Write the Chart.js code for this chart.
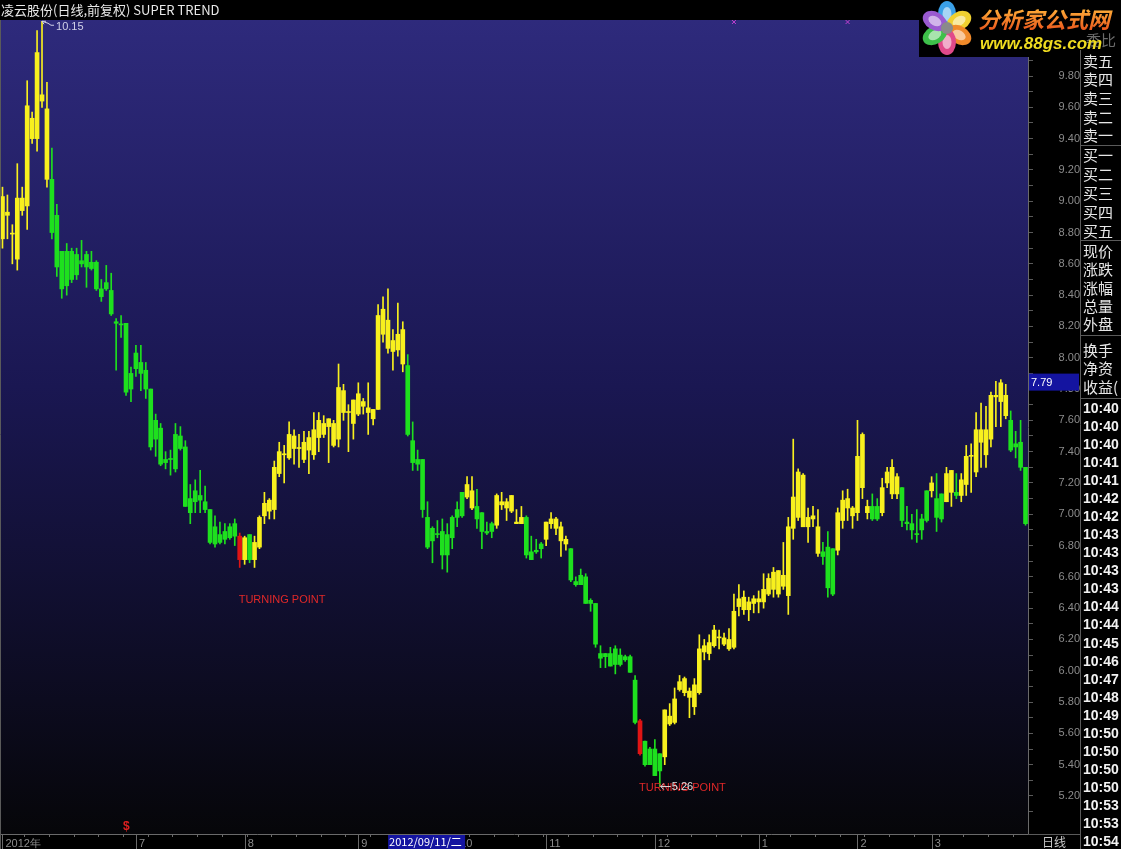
<!DOCTYPE html>
<html>
<head>
<meta charset="utf-8">
<script src="https://cdn.jsdelivr.net/npm/chart.js@4.4.0/dist/chart.umd.min.js"></script>
<style>
  html, body { margin: 0; padding: 0; background: #000; overflow: hidden; }
</style>
</head>
<body>
<canvas id="kline" width="1121" height="849"></canvas>
<script>
// daily candles, 2012-05 .. 2013-03
const opens = [
  8.76, 8.91, 8.79, 8.63, 8.94, 8.97, 9.40, 9.40, 9.64, 9.14,
  9.14, 8.91, 8.68, 8.68, 8.68, 8.66, 8.62, 8.66, 8.61, 8.61,
  8.44, 8.48, 8.43, 8.23, 8.21, 8.22, 7.90, 8.03, 7.97, 7.92,
  7.80, 7.60, 7.55, 7.35, 7.35, 7.51, 7.50, 7.43, 7.10, 7.15,
  7.12, 7.08, 7.03, 6.92, 6.87, 6.89, 6.92, 6.94, 6.86, 6.71,
  6.87, 6.71, 6.79, 6.99, 7.02, 7.03, 7.26, 7.38, 7.36, 7.42,
  7.42, 7.35, 7.41, 7.38, 7.49, 7.51, 7.56, 7.44, 7.48, 7.65,
  7.65, 7.58, 7.64, 7.69, 7.65, 7.61, 7.67, 8.15, 8.06, 8.04,
  8.05, 7.96, 7.95, 7.47, 7.35, 7.35, 6.98, 6.91, 6.87, 6.89,
  6.87, 6.98, 7.03, 7.14, 7.11, 7.04, 7.05, 7.01, 6.89, 6.94,
  6.93, 7.06, 7.04, 7.02, 6.94, 6.94, 6.98, 6.76, 6.77, 6.81,
  6.84, 6.94, 6.91, 6.83, 6.81, 6.78, 6.57, 6.61, 6.60, 6.45,
  6.43, 6.11, 6.11, 6.11, 6.14, 6.10, 6.09, 6.09, 5.94, 5.68,
  5.55, 5.50, 5.50, 5.47, 5.45, 5.66, 5.67, 5.88, 5.86, 5.83,
  5.77, 5.86, 6.12, 6.11, 6.16, 6.21, 6.17, 6.14, 6.15, 6.41,
  6.39, 6.39, 6.43, 6.44, 6.44, 6.49, 6.52, 6.49, 6.54, 6.48,
  6.91, 6.98, 6.92, 6.92, 6.97, 6.75, 6.76, 6.79, 6.78, 6.77,
  6.96, 7.04, 6.99, 7.01, 7.17, 7.01, 7.05, 7.05, 7.01, 7.20,
  7.13, 7.13, 7.17, 6.95, 6.94, 6.87, 6.97, 7.15, 7.15, 7.10,
  7.13, 7.08, 7.14, 7.14, 7.12, 7.19, 7.37, 7.27, 7.46, 7.38,
  7.48, 7.75, 7.72, 7.63, 7.60, 7.45, 7.46, 7.30
];
const highs = [
  9.09, 9.04, 8.85, 9.24, 9.09, 9.77, 9.57, 10.09, 10.15, 9.76,
  9.34, 8.98, 8.68, 8.73, 8.70, 8.70, 8.75, 8.68, 8.68, 8.62,
  8.50, 8.59, 8.54, 8.25, 8.27, 8.22, 7.94, 8.08, 8.08, 7.97,
  7.80, 7.64, 7.58, 7.40, 7.41, 7.58, 7.56, 7.47, 7.19, 7.22,
  7.28, 7.18, 7.03, 6.99, 6.95, 6.94, 6.94, 6.97, 6.88, 6.86,
  6.87, 6.86, 6.99, 7.14, 7.10, 7.34, 7.46, 7.44, 7.59, 7.54,
  7.51, 7.53, 7.53, 7.65, 7.65, 7.63, 7.61, 7.60, 7.96, 7.83,
  7.70, 7.73, 7.84, 7.74, 7.84, 7.67, 8.34, 8.39, 8.44, 8.18,
  8.35, 8.23, 8.02, 7.59, 7.41, 7.35, 7.08, 6.92, 6.96, 6.97,
  6.94, 6.99, 7.08, 7.14, 7.24, 7.24, 7.16, 7.01, 6.95, 6.95,
  7.13, 7.14, 7.10, 7.12, 7.03, 7.05, 6.99, 6.86, 6.84, 6.82,
  6.95, 7.01, 6.98, 6.95, 6.86, 6.78, 6.60, 6.65, 6.62, 6.46,
  6.43, 6.16, 6.11, 6.15, 6.16, 6.14, 6.10, 6.10, 5.97, 5.69,
  5.55, 5.51, 5.56, 5.47, 5.75, 5.79, 5.89, 5.97, 5.96, 5.89,
  5.95, 6.23, 6.20, 6.23, 6.29, 6.26, 6.24, 6.27, 6.49, 6.55,
  6.51, 6.47, 6.48, 6.51, 6.62, 6.62, 6.66, 6.64, 6.82, 6.98,
  7.48, 7.29, 7.26, 7.04, 7.05, 7.03, 6.82, 6.89, 6.78, 7.04,
  7.15, 7.16, 7.05, 7.60, 7.52, 7.09, 7.13, 7.10, 7.23, 7.30,
  7.35, 7.26, 7.17, 7.05, 7.00, 7.03, 7.00, 7.15, 7.24, 7.26,
  7.13, 7.30, 7.28, 7.26, 7.26, 7.44, 7.45, 7.65, 7.71, 7.69,
  7.78, 7.85, 7.86, 7.83, 7.66, 7.53, 7.60, 7.30
];
const lows = [
  8.70, 8.76, 8.60, 8.56, 8.91, 8.82, 9.37, 9.32, 9.60, 9.09,
  8.76, 8.52, 8.38, 8.40, 8.48, 8.50, 8.58, 8.45, 8.56, 8.43,
  8.36, 8.43, 8.27, 7.92, 8.13, 7.76, 7.72, 7.88, 7.79, 7.74,
  7.41, 7.37, 7.31, 7.29, 7.25, 7.27, 7.41, 7.05, 6.94, 7.01,
  7.01, 7.01, 6.81, 6.79, 6.81, 6.81, 6.84, 6.80, 6.66, 6.68,
  6.69, 6.66, 6.78, 6.94, 6.97, 6.97, 7.24, 7.20, 7.35, 7.32,
  7.30, 7.33, 7.26, 7.35, 7.40, 7.49, 7.33, 7.43, 7.43, 7.60,
  7.40, 7.48, 7.63, 7.64, 7.51, 7.57, 7.67, 8.10, 8.03, 7.92,
  8.01, 7.91, 7.50, 7.28, 7.28, 6.98, 6.78, 6.69, 6.85, 6.65,
  6.63, 6.78, 6.92, 6.98, 7.10, 7.03, 6.91, 6.78, 6.87, 6.85,
  6.91, 7.03, 6.96, 7.01, 6.94, 6.94, 6.72, 6.71, 6.75, 6.72,
  6.80, 6.91, 6.87, 6.73, 6.77, 6.57, 6.54, 6.55, 6.43, 6.38,
  6.15, 6.02, 6.02, 6.03, 5.98, 6.03, 6.06, 5.99, 5.66, 5.46,
  5.39, 5.40, 5.33, 5.26, 5.40, 5.65, 5.66, 5.87, 5.84, 5.70,
  5.72, 5.85, 6.07, 6.07, 6.15, 6.14, 6.16, 6.13, 6.14, 6.35,
  6.36, 6.32, 6.37, 6.37, 6.40, 6.48, 6.47, 6.47, 6.52, 6.36,
  6.84, 6.96, 6.92, 6.82, 6.92, 6.73, 6.68, 6.47, 6.48, 6.74,
  6.91, 6.96, 6.91, 6.96, 7.10, 6.97, 6.96, 6.96, 6.99, 7.17,
  7.10, 7.10, 6.92, 6.90, 6.84, 6.82, 6.84, 6.95, 7.11, 6.89,
  6.95, 7.08, 7.05, 7.10, 7.08, 7.12, 7.14, 7.24, 7.30, 7.30,
  7.43, 7.56, 7.56, 7.61, 7.40, 7.36, 7.28, 6.93
];
const closes = [
  9.03, 8.93, 8.79, 9.02, 9.02, 9.61, 9.53, 9.95, 9.68, 9.59,
  8.80, 8.58, 8.44, 8.46, 8.50, 8.53, 8.60, 8.58, 8.57, 8.44,
  8.39, 8.44, 8.28, 8.22, 8.21, 7.78, 7.80, 7.93, 7.90, 7.80,
  7.43, 7.48, 7.32, 7.33, 7.35, 7.29, 7.42, 7.05, 7.01, 7.08,
  7.09, 7.03, 6.82, 6.81, 6.82, 6.84, 6.85, 6.86, 6.71, 6.85,
  6.71, 6.82, 6.98, 7.07, 7.09, 7.30, 7.40, 7.38, 7.51, 7.50,
  7.42, 7.46, 7.49, 7.54, 7.60, 7.58, 7.61, 7.58, 7.81, 7.79,
  7.65, 7.73, 7.77, 7.72, 7.68, 7.67, 8.27, 8.31, 8.24, 8.11,
  8.15, 8.18, 7.51, 7.33, 7.32, 7.03, 6.79, 6.83, 6.87, 6.74,
  6.74, 6.85, 6.98, 6.99, 7.19, 7.15, 6.97, 6.89, 6.88, 6.89,
  7.12, 7.08, 7.08, 7.12, 6.95, 6.98, 6.74, 6.71, 6.76, 6.78,
  6.95, 6.97, 6.97, 6.92, 6.84, 6.58, 6.55, 6.55, 6.43, 6.43,
  6.17, 6.08, 6.09, 6.03, 6.04, 6.04, 6.07, 5.99, 5.67, 5.47,
  5.40, 5.40, 5.33, 5.36, 5.75, 5.71, 5.82, 5.93, 5.95, 5.87,
  5.91, 6.14, 6.16, 6.18, 6.26, 6.21, 6.21, 6.20, 6.38, 6.46,
  6.47, 6.44, 6.46, 6.46, 6.52, 6.59, 6.63, 6.64, 6.61, 6.92,
  7.11, 7.27, 7.25, 6.98, 6.99, 6.92, 6.73, 6.53, 6.49, 7.01,
  7.09, 7.10, 7.04, 7.37, 7.51, 7.05, 6.97, 6.97, 7.17, 7.27,
  7.30, 7.24, 6.96, 6.94, 6.90, 6.87, 6.90, 6.96, 7.20, 6.98,
  6.97, 7.26, 7.28, 7.12, 7.22, 7.37, 7.37, 7.54, 7.54, 7.54,
  7.76, 7.76, 7.84, 7.76, 7.41, 7.43, 7.30, 6.94
];

// SUPER TREND state, from the candle index where it starts
const trendBreaks = [
  [0, 'up'], [10, 'down'], [48, 'turn'], [49, 'up'], [50, 'down'], [51, 'up'],
  [82, 'down'], [94, 'up'], [96, 'down'], [100, 'up'], [106, 'down'], [110, 'up'],
  [115, 'down'], [129, 'turn'], [130, 'down'], [134, 'up'], [166, 'down'], [169, 'up'],
  [176, 'down'], [178, 'up'], [182, 'down'], [188, 'up'], [189, 'down'], [191, 'up'],
  [193, 'down'], [194, 'up'], [204, 'down']
];

// first trading day of each month -> axis text
const monthTicks = [
  [0, '2012年'], [27, '7'], [49, '8'], [72, '9'], [92, '10'], [110, '11'],
  [132, '12'], [153, '1'], [173, '2'], [188, '3']
];
const priceTicks = [5.2, 5.4, 5.6, 5.8, 6.0, 6.2, 6.4, 6.6, 6.8, 7.0, 7.2, 7.4, 7.6, 7.8,
  8.0, 8.2, 8.4, 8.6, 8.8, 9.0, 9.2, 9.4, 9.6, 9.8];

const turnPoints = [48, 129];
const highMark = [8, '10.15'];
const lowMark = [133, '5.26'];
const signalMarks = [148, 171];
const dollarMark = 25;
const cursorDay = [76, '2012/09/11/二'];
const lastPrice = 7.79;

const panelRows = ['卖五', '卖四', '卖三', '卖二', '卖一', '买一', '买二', '买三', '买四', '买五',
  '现价', '涨跌', '涨幅', '总量', '外盘', '换手', '净资', '收益(', ];
const tradeTimes = ['10:40', '10:40', '10:40', '10:41', '10:41', '10:42', '10:42', '10:43', '10:43',
  '10:43', '10:43', '10:44', '10:44', '10:45', '10:46', '10:47', '10:48', '10:49', '10:50',
  '10:50', '10:50', '10:50', '10:53', '10:53', '10:54'];

const COLORS = { up: '#f8f01e', down: '#1ee01e', turn: '#e01414' };
const dayLabels = opens.map(() => '');
monthTicks.forEach(([i, t]) => { dayLabels[i] = t; });
const candleColors = opens.map((o, i) => {
  let s = 'up';
  trendBreaks.forEach(([start, st]) => { if (i >= start) s = st; });
  return COLORS[s];
});
const minorTicks = [];
for (let k = 0; k < priceTicks.length; k++) {
  minorTicks.push(priceTicks[k]);
  if (k < priceTicks.length - 1) minorTicks.push(+(priceTicks[k] + 0.1).toFixed(2));
}
minorTicks.unshift(5.1);
minorTicks.push(9.9);

const NUM_FONT = '"Liberation Sans", Arial, sans-serif';
const CJK_FONT = '"Noto Sans CJK SC", "Noto Sans", sans-serif';

const noPad = s => { s.paddingTop = 0; s.paddingBottom = 0; s.paddingLeft = 0; s.paddingRight = 0; };

const chrome = {
  id: 'chrome',
  beforeDraw(chart) {
    const { ctx, chartArea: a, width, height } = chart;
    ctx.save();
    ctx.fillStyle = '#000';
    ctx.fillRect(0, 0, width, height);
    const g = ctx.createLinearGradient(0, a.top, 0, a.bottom);
    g.addColorStop(0, '#2e2a7c');
    g.addColorStop(0.45, '#1a1752');
    g.addColorStop(1, '#060609');
    ctx.fillStyle = g;
    ctx.fillRect(a.left, a.top, a.right - a.left, a.bottom - a.top);
    ctx.restore();
  },
  afterDraw(chart) {
    const { ctx, chartArea: a, width, height } = chart;
    const xs = chart.scales.x, ys = chart.scales.y;
    ctx.save();

    // title bar
    ctx.fillStyle = '#e8e8e8';
    ctx.font = '13px ' + CJK_FONT;
    ctx.textBaseline = 'middle';
    ctx.fillText('凌云股份(日线,前复权) SUPER TREND', 1, 10);

    // frame lines
    ctx.strokeStyle = '#5a5a5a';
    ctx.lineWidth = 1;
    ctx.beginPath();
    ctx.moveTo(0.5, a.top); ctx.lineTo(0.5, height);
    ctx.moveTo(a.right, a.bottom + 0.5); ctx.lineTo(1080, a.bottom + 0.5);
    ctx.moveTo(1080.5, 0); ctx.lineTo(1080.5, height);
    ctx.stroke();

    // month separators on the date axis
    ctx.strokeStyle = '#6a6a6a';
    ctx.beginPath();
    monthTicks.forEach(([i]) => {
      const x = Math.round(xs.getPixelForValue(i)) + 0.5;
      ctx.moveTo(x, a.bottom); ctx.lineTo(x, height);
    });
    ctx.stroke();

    // cursor date box
    const cx = xs.getPixelForValue(cursorDay[0]) + 10;
    ctx.fillStyle = '#1414a0';
    ctx.fillRect(cx, a.bottom + 1, 77, height - a.bottom - 1);
    ctx.fillStyle = '#ffffff';
    ctx.font = '11px ' + CJK_FONT;
    ctx.fillText(cursorDay[1], cx + 1, a.bottom + 8);

    // turning point labels
    ctx.fillStyle = '#e02828';
    ctx.font = '11px ' + NUM_FONT;
    turnPoints.forEach(i => {
      ctx.fillText('TURNING POINT', xs.getPixelForValue(i) - 1, ys.getPixelForValue(lows[i]) + 33);
    });

    // extreme price markers
    ctx.strokeStyle = '#d0d0e8';
    ctx.fillStyle = '#d0d0e8';
    let hx = xs.getPixelForValue(highMark[0]), hy = ys.getPixelForValue(highs[highMark[0]]);
    ctx.beginPath();
    ctx.moveTo(hx, hy); ctx.lineTo(hx + 4, hy); ctx.moveTo(hx, hy); ctx.lineTo(hx + 2, hy + 3);
    ctx.moveTo(hx, hy); ctx.lineTo(hx + 6, hy + 2); ctx.lineTo(hx + 9, hy + 4); ctx.lineTo(hx + 12, hy + 4);
    ctx.stroke();
    ctx.fillText(highMark[1], hx + 14, hy + 6);
    let lx = xs.getPixelForValue(lowMark[0]), ly = ys.getPixelForValue(lows[lowMark[0]]);
    ctx.strokeStyle = '#e0e0e0';
    ctx.fillStyle = '#e0e0e0';
    ctx.beginPath();
    ctx.moveTo(lx + 1, ly); ctx.lineTo(lx + 11, ly);
    ctx.moveTo(lx + 1, ly); ctx.lineTo(lx + 4, ly - 3);
    ctx.moveTo(lx + 1, ly); ctx.lineTo(lx + 4, ly + 3);
    ctx.stroke();
    ctx.fillText(lowMark[1], lx + 12, ly);

    // indicator signals
    ctx.fillStyle = '#e02020';
    ctx.font = 'bold 12px ' + NUM_FONT;
    ctx.fillText('$', xs.getPixelForValue(dollarMark) - 3, a.bottom - 7);
    ctx.strokeStyle = '#c040d0';
    ctx.beginPath();
    signalMarks.forEach(i => {
      const x = xs.getPixelForValue(i), y = a.top + 2;
      ctx.moveTo(x - 2, y - 2); ctx.lineTo(x + 2, y + 2);
      ctx.moveTo(x + 2, y - 2); ctx.lineTo(x - 2, y + 2);
    });
    ctx.stroke();

    // last price box on the price axis
    const py = ys.getPixelForValue(lastPrice);
    ctx.fillStyle = '#1414a0';
    ctx.fillRect(a.right + 1, py - 17, 50, 17);
    ctx.fillStyle = '#ffffff';
    ctx.font = '11px ' + NUM_FONT;
    ctx.fillText(lastPrice.toFixed(2), a.right + 3, py - 8);

    ctx.fillStyle = '#c8c8c8';
    ctx.font = '12px ' + CJK_FONT;
    ctx.textAlign = 'center';
    ctx.fillText('日线', 1054, a.bottom + 8);
    ctx.textAlign = 'left';

    // quote panel
    ctx.fillStyle = '#e6e6e6';
    ctx.font = '15px ' + CJK_FONT;
    const rowY = [61, 79, 98, 117, 135, 155, 174, 193, 212, 231, 251, 269, 288, 306, 324, 350, 368, 387];
    panelRows.forEach((t, k) => ctx.fillText(t, 1083, rowY[k]));
    ctx.strokeStyle = '#5a5a5a';
    ctx.beginPath();
    [145, 240, 335, 398].forEach(y => { ctx.moveTo(1080, y + 0.5); ctx.lineTo(width, y + 0.5); });
    ctx.stroke();
    ctx.font = 'bold 14px ' + NUM_FONT;
    ctx.fillStyle = '#f2f2f2';
    tradeTimes.forEach((t, k) => ctx.fillText(t, 1083, 409 + k * 18.05));

    // site logo
    ctx.fillStyle = '#000';
    ctx.fillRect(919, 0, width - 919, 50);
    ctx.fillRect(919, 50, 111, 7);
    ctx.fillStyle = '#6a6a6a';
    ctx.font = '15px ' + CJK_FONT;
    ctx.fillText('委比', 1086, 40);
    const petals = ['#3aa0e8', '#f0d030', '#f08a2a', '#e04a8a', '#3ec04a', '#9a5ad0'];
    petals.forEach((c, k) => {
      const ang = -Math.PI / 2 + k * Math.PI / 3;
      ctx.save();
      ctx.translate(947 + Math.cos(ang) * 14, 28 + Math.sin(ang) * 14);
      ctx.rotate(ang);
      ctx.fillStyle = c;
      ctx.beginPath();
      ctx.ellipse(0, 0, 13, 9, 0, 0, Math.PI * 2);
      ctx.fill();
      ctx.fillStyle = 'rgba(255,255,255,0.55)';
      ctx.beginPath();
      ctx.ellipse(0, 0, 7, 4.5, 0, 0, Math.PI * 2);
      ctx.fill();
      ctx.restore();
    });
    ctx.fillStyle = '#8a8a8a';
    ctx.beginPath(); ctx.arc(947, 28, 6, 0, Math.PI * 2); ctx.fill();
    const lg = ctx.createLinearGradient(0, 8, 0, 32);
    lg.addColorStop(0, '#ffb23a');
    lg.addColorStop(1, '#e8501a');
    ctx.fillStyle = lg;
    ctx.font = 'italic bold 22px ' + CJK_FONT;
    ctx.fillText('分析家公式网', 978, 20);
    ctx.fillStyle = '#f0dc20';
    ctx.font = 'italic bold 17px ' + NUM_FONT;
    ctx.fillText('www.88gs.com', 980, 44);

    ctx.restore();
  }
};

new Chart(document.getElementById('kline'), {
  type: 'bar',
  data: {
    labels: dayLabels,
    datasets: [
      {
        label: 'body',
        data: opens.map((o, i) => [o, closes[i]]),
        backgroundColor: candleColors,
        barThickness: 4,
        minBarLength: 1,
        grouped: false,
        borderWidth: 0
      },
      {
        label: 'wick',
        data: lows.map((l, i) => [l, highs[i]]),
        backgroundColor: candleColors,
        barThickness: 1,
        grouped: false,
        borderWidth: 0
      }
    ]
  },
  options: {
    responsive: false,
    animation: false,
    layout: { padding: { top: 20, right: 41, left: 0, bottom: 0 } },
    plugins: { legend: { display: false }, tooltip: { enabled: false } },
    scales: {
      x: {
        type: 'category',
        offset: true,
        afterFit: s => { s.height = 15; noPad(s); },
        border: { color: '#6a6a6a' },
        grid: {
          drawOnChartArea: false,
          tickLength: 3,
          color: c => (c.index % 5 === 0 ? '#6a6a6a' : 'rgba(0,0,0,0)')
        },
        ticks: {
          autoSkip: false,
          maxRotation: 0,
          align: 'start',
          labelOffset: 3,
          padding: 0,
          color: '#8c8c8c',
          font: { size: 11, family: NUM_FONT },
          callback: (v, i) => dayLabels[i]
        }
      },
      y: {
        position: 'right',
        min: 4.957,
        max: 10.158,
        afterFit: s => { s.width = 52; noPad(s); },
        afterBuildTicks: s => { s.ticks = minorTicks.map(v => ({ value: v })); },
        border: { color: '#6a6a6a' },
        grid: { drawOnChartArea: false, tickLength: 5, color: '#5a5a5a' },
        ticks: {
          crossAlign: 'far',
          padding: 16,
          color: '#8c8c8c',
          font: { size: 11, family: NUM_FONT },
          callback: v => (priceTicks.some(p => Math.abs(p - v) < 1e-6) ? v.toFixed(2) : '')
        }
      }
    }
  },
  plugins: [chrome]
});
</script>
</body>
</html>
